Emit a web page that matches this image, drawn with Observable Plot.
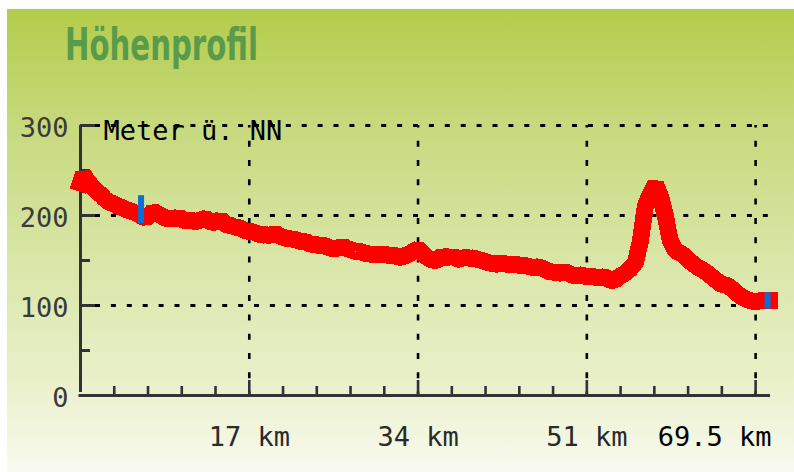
<!DOCTYPE html>
<html>
<head>
<meta charset="utf-8">
<script src="https://cdn.jsdelivr.net/npm/d3@7"></script>
<script src="https://cdn.jsdelivr.net/npm/@observablehq/plot@0.6"></script>
<style>
  html, body { margin: 0; padding: 0; background: #ffffff; }
  #panel {
    position: absolute; left: 7px; top: 9px; width: 787px; height: 463px; overflow: hidden;
    background: linear-gradient(to bottom, #b4cc4a 0%, #c7d97d 25%, #d9e6a8 55%, #e9f0c9 80%, #f8faef 100%);
  }
  #title {
    position: absolute; left: 58px; top: 13px; white-space: nowrap;
    font-family: "DejaVu Sans Condensed", "DejaVu Sans", sans-serif; font-stretch: condensed;
    font-weight: bold; font-size: 45px; line-height: 45px; color: #5a9a4b;
    transform-origin: left center;
  }
  #chart { position: absolute; left: 0; top: 91px; }
</style>
</head>
<body>
<div id="panel">
  <div id="title">Höhenprofil</div>
  <div id="chart"></div>
</div>
<script>
// ---- data ----
const profileKm = [0, 0.3, 0.6, 0.9, 1.2, 1.5, 1.8, 2.1, 2.4, 2.7, 3.0, 3.4, 3.8, 4.2, 4.7, 5.1, 5.5, 5.9, 6.2, 6.6, 6.9, 7.3, 7.6, 7.9, 8.3, 8.6, 9.1, 9.5, 9.9, 10.3, 10.6, 11.1, 11.6, 12.1, 12.6, 13.1, 13.6, 14.1, 14.6, 15.1, 15.6, 16.1, 16.6, 17.3, 17.8, 18.3, 18.7, 19.1, 19.6, 19.9, 20.6, 21.2, 21.7, 22.2, 22.7, 23.2, 23.7, 24.2, 24.7, 25.1, 25.5, 26.0, 26.4, 26.8, 27.2, 27.7, 28.2, 28.7, 29.2, 29.7, 30.2, 30.7, 31.2, 31.6, 32.0, 32.4, 32.7, 33.1, 33.5, 34.0, 34.3, 34.6, 35.0, 35.3, 35.7, 36.1, 36.5, 36.8, 37.2, 37.5, 37.9, 38.3, 38.7, 39.1, 39.6, 40.1, 40.7, 41.3, 41.9, 42.6, 43.2, 43.8, 44.4, 45.0, 45.6, 46.1, 46.6, 47.1, 47.7, 48.3, 48.9, 49.5, 49.9, 50.5, 51.0, 51.4, 51.9, 52.4, 52.8, 53.2, 53.8, 54.1, 54.4, 55.0, 55.4, 55.9, 56.4, 56.9, 57.4, 57.9, 58.4, 58.9, 59.4, 59.9, 60.6, 61.4, 62.1, 62.9, 63.8, 64.5, 65.2, 65.9, 66.5, 67.3, 68.0, 68.7, 69.4];
const profileElev = [236, 246, 240, 236, 232, 229, 225, 223, 219, 216, 214, 213, 210, 209, 206, 205, 203, 201, 199, 197, 200, 205, 203, 201, 199, 196, 197, 196, 199, 195, 194, 195, 193, 195, 197, 193, 192, 196, 190, 189, 187, 186, 183, 182, 180, 178, 179, 177, 181, 178, 175, 174, 173, 171, 171, 168, 168, 166, 167, 163, 164, 163, 167, 163, 162, 160, 160, 158, 157, 157, 156, 157, 155, 156, 154, 153, 156, 157, 160, 163, 160, 156, 153, 151, 150, 151, 157, 154, 152, 156, 152, 151, 155, 152, 153, 151, 149, 147, 146, 147, 145, 146, 144, 144, 142, 143, 141, 138, 137, 136, 137, 134, 133, 134, 132, 133, 131, 131, 132, 129, 127, 131, 133, 137, 141, 148, 172, 211, 224, 235, 222, 200, 172, 161, 157, 149, 143, 138, 130, 124, 122, 116, 110, 106, 104, 106, 106];
const markerKm = [6.1, 69.2];
const markerLow = [191, 96];
const markerHigh = [222, 114];
const yMajorTicks = [0, 100, 200, 300];
const yMinorTicks = [50, 150, 250];
const yGridLines = [100, 200, 300];
const xMajorTicks = [17, 34, 51, 68];
const xMinorTicks = [3.4, 6.8, 10.2, 13.6, 20.4, 23.8, 27.2, 30.6, 37.4, 40.8, 44.2, 47.6, 54.4, 57.8, 61.2, 64.6];
const xLabels = [17, 34, 51];
const xEndLabel = [69.5];
const yLabel = "Meter ü. NN";

const profile = profileKm.map((km, i) => ({km, elev: profileElev[i]}));
const markers = markerKm.map((km, i) => ({km, lo: markerLow[i], hi: markerHigh[i]}));

const mono = "DejaVu Sans Mono, Liberation Mono, monospace";
const axisColor = "#333333";

const chart = Plot.plot({
  width: 787,
  height: 372,
  marginLeft: 73,
  marginRight: 24,
  marginTop: 25,
  marginBottom: 77,
  x: {domain: [0, 69.5], axis: null},
  y: {domain: [0, 300], axis: null},
  style: {background: "transparent", overflow: "visible"},
  marks: [
    // dashed grid
    Plot.ruleY(yGridLines, {y: d => d, x1: 0, x2: 69.5, insetLeft: 15, insetRight: -3, stroke: "#000", strokeWidth: 3, strokeDasharray: "5,10.9"}),
    Plot.ruleX(xMajorTicks, {x: d => d, y1: 300, y2: 0, stroke: "#000", strokeWidth: 2.6, strokeDasharray: "6,13.3", strokeDashoffset: -35 % 19.3}),
    // axis lines
    Plot.ruleX([0], {x: d => d, y1: 0, y2: 300, insetTop: -3, stroke: axisColor, strokeWidth: 3}),
    Plot.ruleY([0], {y: d => d, x1: 0, x2: 69.5, insetLeft: -1.5, stroke: axisColor, strokeWidth: 3}),
    // ticks
    Plot.ruleY(yMajorTicks.slice(1), {y: d => d, x1: 0, x2: 0, insetRight: -15, stroke: axisColor, strokeWidth: 3}),
    Plot.ruleY(yMinorTicks, {y: d => d, x1: 0, x2: 0, insetRight: -10, stroke: axisColor, strokeWidth: 3}),
    Plot.ruleX(xMajorTicks, {x: d => d, y1: 0, y2: 0, insetTop: -15, stroke: axisColor, strokeWidth: 2.6}),
    Plot.ruleX(xMinorTicks, {x: d => d, y1: 0, y2: 0, insetTop: -9, stroke: axisColor, strokeWidth: 2.6}),
    // profile
    Plot.line(profile, {x: "km", y: "elev", stroke: "#ff0000", strokeWidth: 17, strokeLinejoin: "bevel", strokeLinecap: "square", shapeRendering: "crispEdges"}),
    // waypoint markers
    Plot.ruleX(markers, {x: "km", y1: "lo", y2: "hi", stroke: "#0a6fd4", strokeWidth: 6}),
    // labels
    Plot.text(yMajorTicks, {x: 0, y: d => d, text: d => String(d), textAnchor: "end", dx: -12, dy: 3, fontFamily: mono, fontSize: 27, fill: "#3a3a3a", lineAnchor: "middle"}),
    Plot.text(xLabels, {x: d => d, y: 0, text: d => `${d} km`, textAnchor: "middle", dy: 42, fontFamily: mono, fontSize: 27, fill: "#2a2a2a", lineAnchor: "middle"}),
    Plot.text(xEndLabel, {x: d => d, y: 0, text: d => `${d} km`, textAnchor: "end", dx: 1, dy: 42, fontFamily: mono, fontSize: 27, fill: "#000", lineAnchor: "middle"}),
    Plot.text([yLabel], {frameAnchor: "top-left", dx: 23, dy: 6, text: d => d, textAnchor: "start", lineAnchor: "middle", fontFamily: mono, fontSize: 27, fill: "#000"})
  ]
});
document.getElementById("chart").appendChild(chart);

const t = document.getElementById("title");
const w = t.getBoundingClientRect().width;
t.style.transform = `scaleX(${193 / w})`;
</script>
</body>
</html>
